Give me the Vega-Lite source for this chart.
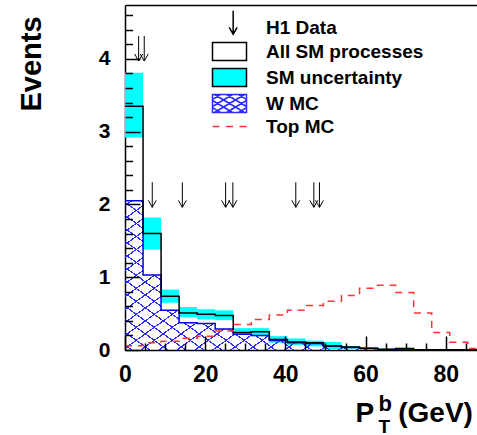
{
"$schema":"https://vega.github.io/schema/vega-lite/v6.json",
"width":352,"height":345,
"autosize":{"type":"none"},
"padding":{"left":125,"top":5,"right":0,"bottom":85},
"config":{"view":{"stroke":null},"font":"Liberation Sans","axis":{"grid":false,"labelColor":"black","titleColor":"black","tickColor":"black","domainColor":"black","labelFontWeight":"bold","titleFontWeight":"bold","labelFont":"Liberation Sans","titleFont":"Liberation Sans"}},
"datasets":{
"bins":[
{"x0":0,"x1":4.5,"sm":3.35,"lo":2.92,"hi":3.81,"w":2.05,"top":0.06},
{"x0":4.5,"x1":9,"sm":1.6,"lo":1.38,"hi":1.82,"w":1.03,"top":0.1},
{"x0":9,"x1":13.5,"sm":0.74,"lo":0.65,"hi":0.83,"w":0.545,"top":0.12},
{"x0":13.5,"x1":18,"sm":0.51,"lo":0.45,"hi":0.59,"w":0.375,"top":0.16},
{"x0":18,"x1":22.5,"sm":0.49,"lo":0.42,"hi":0.56,"w":0.365,"top":0.19},
{"x0":22.5,"x1":27,"sm":0.475,"lo":0.41,"hi":0.545,"w":0.29,"top":0.26},
{"x0":27,"x1":31.5,"sm":0.24,"lo":0.21,"hi":0.3,"w":0.215,"top":0.35},
{"x0":31.5,"x1":36,"sm":0.25,"lo":0.19,"hi":0.3,"w":0.2,"top":0.42},
{"x0":36,"x1":40.5,"sm":0.145,"lo":0.1,"hi":0.19,"w":0.13,"top":0.48},
{"x0":40.5,"x1":45,"sm":0.11,"lo":0.07,"hi":0.16,"w":0.1,"top":0.545},
{"x0":45,"x1":49.5,"sm":0.1,"lo":0.05,"hi":0.13,"w":0.09,"top":0.61},
{"x0":49.5,"x1":54,"sm":0.055,"lo":0.01,"hi":0.11,"w":0.05,"top":0.67},
{"x0":54,"x1":58.5,"sm":0.04,"lo":0.02,"hi":0.055,"w":0.035,"top":0.75},
{"x0":58.5,"x1":63,"sm":0.025,"lo":0.01,"hi":0.04,"w":0.02,"top":0.85},
{"x0":63,"x1":67.5,"sm":0.01,"lo":0.0,"hi":0.02,"w":0.005,"top":0.89},
{"x0":67.5,"x1":72,"sm":0.02,"lo":0.01,"hi":0.03,"w":0.01,"top":0.79},
{"x0":72,"x1":76.5,"sm":0.005,"lo":0,"hi":0.01,"w":0.003,"top":0.51},
{"x0":76.5,"x1":81,"sm":0.003,"lo":0,"hi":0.006,"w":0.002,"top":0.24},
{"x0":81,"x1":85.5,"sm":0.002,"lo":0,"hi":0.004,"w":0.001,"top":0.105},
{"x0":85.5,"x1":90,"sm":0.002,"lo":0,"hi":0.004,"w":0.001,"top":0.02},
{"x0":90,"x1":90,"sm":0.002,"lo":0,"hi":0,"w":0.001,"top":0.02}
],
"events":[
{"pt":3.4,"tip":3.97},{"pt":4.8,"tip":3.97},
{"pt":6.8,"tip":1.96},{"pt":14.3,"tip":1.96},{"pt":25.1,"tip":1.96},{"pt":26.9,"tip":1.96},
{"pt":42.6,"tip":1.96},{"pt":47.1,"tip":1.96},{"pt":48.5,"tip":1.96}
],
"series":[{"s":"H1 Data"},{"s":"All SM processes"},{"s":"SM uncertainty"},{"s":"W MC"},{"s":"Top MC"}]
},
"resolve":{"axis":{"x":"independent","y":"independent"}},
"layer":[
{"data":{"name":"bins"},
 "mark":{"type":"rect","color":"#00ffff","clip":true},
 "encoding":{
  "x":{"field":"x0","type":"quantitative","scale":{"domain":[0,87.8],"nice":false,"zero":false},
   "axis":{"orient":"bottom","values":[0,20,40,60,80],"ticks":false,"labelPadding":13,"labelFontSize":23,"labelFlush":false,"labelOverlap":false,"domain":true,"domainWidth":1.5,
     "title":"P","titleX":230,"titleY":71.7,"titleAlign":"left","titleBaseline":"alphabetic","titleFontSize":28}},
  "x2":{"field":"x1"},
  "y":{"field":"lo","type":"quantitative","scale":{"domain":[0,4.74],"nice":false,"zero":false},
   "axis":{"orient":"left","values":[0,1,2,3,4],"ticks":false,"labelPadding":15,"labelFontSize":21,"labelFlush":false,"labelOverlap":false,"domain":true,"domainWidth":1.5,
     "title":"Events","titleX":-85,"titleY":58.5,"titleAngle":270,"titleAlign":"center","titleBaseline":"alphabetic","titleFontSize":29}},
  "y2":{"field":"hi"}
 }},
{"data":{"name":"bins"},
 "mark":{"type":"area","interpolate":"step-after","clip":true,
  "fill":{"gradient":"linear","x1":0,"y1":1,"x2":1.1845,"y2":0.3215,"stops":[
{"offset":0,"color":"rgba(43,43,255,0)"},
{"offset":0.0100,"color":"rgba(43,43,255,0)"},{"offset":0.0100,"color":"#2b2bff"},{"offset":0.0135,"color":"#2b2bff"},{"offset":0.0135,"color":"rgba(43,43,255,0)"},
{"offset":0.0417,"color":"rgba(43,43,255,0)"},{"offset":0.0417,"color":"#2b2bff"},{"offset":0.0452,"color":"#2b2bff"},{"offset":0.0452,"color":"rgba(43,43,255,0)"},
{"offset":0.0734,"color":"rgba(43,43,255,0)"},{"offset":0.0734,"color":"#2b2bff"},{"offset":0.0769,"color":"#2b2bff"},{"offset":0.0769,"color":"rgba(43,43,255,0)"},
{"offset":0.1051,"color":"rgba(43,43,255,0)"},{"offset":0.1051,"color":"#2b2bff"},{"offset":0.1086,"color":"#2b2bff"},{"offset":0.1086,"color":"rgba(43,43,255,0)"},
{"offset":0.1368,"color":"rgba(43,43,255,0)"},{"offset":0.1368,"color":"#2b2bff"},{"offset":0.1403,"color":"#2b2bff"},{"offset":0.1403,"color":"rgba(43,43,255,0)"},
{"offset":0.1685,"color":"rgba(43,43,255,0)"},{"offset":0.1685,"color":"#2b2bff"},{"offset":0.1720,"color":"#2b2bff"},{"offset":0.1720,"color":"rgba(43,43,255,0)"},
{"offset":0.2001,"color":"rgba(43,43,255,0)"},{"offset":0.2001,"color":"#2b2bff"},{"offset":0.2036,"color":"#2b2bff"},{"offset":0.2036,"color":"rgba(43,43,255,0)"},
{"offset":0.2318,"color":"rgba(43,43,255,0)"},{"offset":0.2318,"color":"#2b2bff"},{"offset":0.2353,"color":"#2b2bff"},{"offset":0.2353,"color":"rgba(43,43,255,0)"},
{"offset":0.2635,"color":"rgba(43,43,255,0)"},{"offset":0.2635,"color":"#2b2bff"},{"offset":0.2670,"color":"#2b2bff"},{"offset":0.2670,"color":"rgba(43,43,255,0)"},
{"offset":0.2952,"color":"rgba(43,43,255,0)"},{"offset":0.2952,"color":"#2b2bff"},{"offset":0.2987,"color":"#2b2bff"},{"offset":0.2987,"color":"rgba(43,43,255,0)"},
{"offset":0.3269,"color":"rgba(43,43,255,0)"},{"offset":0.3269,"color":"#2b2bff"},{"offset":0.3304,"color":"#2b2bff"},{"offset":0.3304,"color":"rgba(43,43,255,0)"},
{"offset":0.3586,"color":"rgba(43,43,255,0)"},{"offset":0.3586,"color":"#2b2bff"},{"offset":0.3621,"color":"#2b2bff"},{"offset":0.3621,"color":"rgba(43,43,255,0)"},
{"offset":0.3903,"color":"rgba(43,43,255,0)"},{"offset":0.3903,"color":"#2b2bff"},{"offset":0.3938,"color":"#2b2bff"},{"offset":0.3938,"color":"rgba(43,43,255,0)"},
{"offset":0.4220,"color":"rgba(43,43,255,0)"},{"offset":0.4220,"color":"#2b2bff"},{"offset":0.4255,"color":"#2b2bff"},{"offset":0.4255,"color":"rgba(43,43,255,0)"},
{"offset":0.4537,"color":"rgba(43,43,255,0)"},{"offset":0.4537,"color":"#2b2bff"},{"offset":0.4572,"color":"#2b2bff"},{"offset":0.4572,"color":"rgba(43,43,255,0)"},
{"offset":0.4854,"color":"rgba(43,43,255,0)"},{"offset":0.4854,"color":"#2b2bff"},{"offset":0.4889,"color":"#2b2bff"},{"offset":0.4889,"color":"rgba(43,43,255,0)"},
{"offset":0.5170,"color":"rgba(43,43,255,0)"},{"offset":0.5170,"color":"#2b2bff"},{"offset":0.5205,"color":"#2b2bff"},{"offset":0.5205,"color":"rgba(43,43,255,0)"},
{"offset":0.5487,"color":"rgba(43,43,255,0)"},{"offset":0.5487,"color":"#2b2bff"},{"offset":0.5522,"color":"#2b2bff"},{"offset":0.5522,"color":"rgba(43,43,255,0)"},
{"offset":0.5804,"color":"rgba(43,43,255,0)"},{"offset":0.5804,"color":"#2b2bff"},{"offset":0.5839,"color":"#2b2bff"},{"offset":0.5839,"color":"rgba(43,43,255,0)"},
{"offset":0.6121,"color":"rgba(43,43,255,0)"},{"offset":0.6121,"color":"#2b2bff"},{"offset":0.6156,"color":"#2b2bff"},{"offset":0.6156,"color":"rgba(43,43,255,0)"},
{"offset":0.6438,"color":"rgba(43,43,255,0)"},{"offset":0.6438,"color":"#2b2bff"},{"offset":0.6473,"color":"#2b2bff"},{"offset":0.6473,"color":"rgba(43,43,255,0)"},
{"offset":0.6755,"color":"rgba(43,43,255,0)"},{"offset":0.6755,"color":"#2b2bff"},{"offset":0.6790,"color":"#2b2bff"},{"offset":0.6790,"color":"rgba(43,43,255,0)"},
{"offset":0.7072,"color":"rgba(43,43,255,0)"},{"offset":0.7072,"color":"#2b2bff"},{"offset":0.7107,"color":"#2b2bff"},{"offset":0.7107,"color":"rgba(43,43,255,0)"},
{"offset":0.7389,"color":"rgba(43,43,255,0)"},{"offset":0.7389,"color":"#2b2bff"},{"offset":0.7424,"color":"#2b2bff"},{"offset":0.7424,"color":"rgba(43,43,255,0)"},
{"offset":0.7706,"color":"rgba(43,43,255,0)"},{"offset":0.7706,"color":"#2b2bff"},{"offset":0.7741,"color":"#2b2bff"},{"offset":0.7741,"color":"rgba(43,43,255,0)"},
{"offset":0.8023,"color":"rgba(43,43,255,0)"},{"offset":0.8023,"color":"#2b2bff"},{"offset":0.8058,"color":"#2b2bff"},{"offset":0.8058,"color":"rgba(43,43,255,0)"},
{"offset":0.8339,"color":"rgba(43,43,255,0)"},{"offset":0.8339,"color":"#2b2bff"},{"offset":0.8374,"color":"#2b2bff"},{"offset":0.8374,"color":"rgba(43,43,255,0)"},
{"offset":0.8656,"color":"rgba(43,43,255,0)"},{"offset":0.8656,"color":"#2b2bff"},{"offset":0.8691,"color":"#2b2bff"},{"offset":0.8691,"color":"rgba(43,43,255,0)"},
{"offset":0.8973,"color":"rgba(43,43,255,0)"},{"offset":0.8973,"color":"#2b2bff"},{"offset":0.9008,"color":"#2b2bff"},{"offset":0.9008,"color":"rgba(43,43,255,0)"},
{"offset":0.9290,"color":"rgba(43,43,255,0)"},{"offset":0.9290,"color":"#2b2bff"},{"offset":0.9325,"color":"#2b2bff"},{"offset":0.9325,"color":"rgba(43,43,255,0)"},
{"offset":0.9607,"color":"rgba(43,43,255,0)"},{"offset":0.9607,"color":"#2b2bff"},{"offset":0.9642,"color":"#2b2bff"},{"offset":0.9642,"color":"rgba(43,43,255,0)"},
{"offset":0.9924,"color":"rgba(43,43,255,0)"},{"offset":0.9924,"color":"#2b2bff"},{"offset":0.9959,"color":"#2b2bff"},{"offset":0.9959,"color":"rgba(43,43,255,0)"},
{"offset":1,"color":"rgba(43,43,255,0)"}
  ]}},
 "encoding":{
  "x":{"field":"x0","type":"quantitative","axis":{"orient":"bottom","values":[5,10,15,25,30,35,45,50,55,65,70,75,85],"labels":false,"domain":false,"ticks":true,"tickSize":-7,"tickWidth":1.5,"title":null,"zindex":1}},
  "y":{"field":"w","type":"quantitative","stack":null,"axis":{"orient":"left","values":[0.2,0.4,0.6,0.8,1.2,1.4,1.6,1.8,2.2,2.4,2.6,2.8,3.2,3.4,3.6,3.8,4.2,4.4,4.6],"labels":false,"domain":false,"ticks":true,"tickSize":-7.5,"tickWidth":1.5,"title":null,"zindex":1}}
 }},
{"data":{"name":"bins"},
 "mark":{"type":"area","interpolate":"step-after","clip":true,
  "fill":{"gradient":"linear","x1":0,"y1":0,"x2":1.1845,"y2":0.6785,"stops":[
{"offset":0,"color":"rgba(43,43,255,0)"},
{"offset":0.0100,"color":"rgba(43,43,255,0)"},{"offset":0.0100,"color":"#2b2bff"},{"offset":0.0135,"color":"#2b2bff"},{"offset":0.0135,"color":"rgba(43,43,255,0)"},
{"offset":0.0417,"color":"rgba(43,43,255,0)"},{"offset":0.0417,"color":"#2b2bff"},{"offset":0.0452,"color":"#2b2bff"},{"offset":0.0452,"color":"rgba(43,43,255,0)"},
{"offset":0.0734,"color":"rgba(43,43,255,0)"},{"offset":0.0734,"color":"#2b2bff"},{"offset":0.0769,"color":"#2b2bff"},{"offset":0.0769,"color":"rgba(43,43,255,0)"},
{"offset":0.1051,"color":"rgba(43,43,255,0)"},{"offset":0.1051,"color":"#2b2bff"},{"offset":0.1086,"color":"#2b2bff"},{"offset":0.1086,"color":"rgba(43,43,255,0)"},
{"offset":0.1368,"color":"rgba(43,43,255,0)"},{"offset":0.1368,"color":"#2b2bff"},{"offset":0.1403,"color":"#2b2bff"},{"offset":0.1403,"color":"rgba(43,43,255,0)"},
{"offset":0.1685,"color":"rgba(43,43,255,0)"},{"offset":0.1685,"color":"#2b2bff"},{"offset":0.1720,"color":"#2b2bff"},{"offset":0.1720,"color":"rgba(43,43,255,0)"},
{"offset":0.2001,"color":"rgba(43,43,255,0)"},{"offset":0.2001,"color":"#2b2bff"},{"offset":0.2036,"color":"#2b2bff"},{"offset":0.2036,"color":"rgba(43,43,255,0)"},
{"offset":0.2318,"color":"rgba(43,43,255,0)"},{"offset":0.2318,"color":"#2b2bff"},{"offset":0.2353,"color":"#2b2bff"},{"offset":0.2353,"color":"rgba(43,43,255,0)"},
{"offset":0.2635,"color":"rgba(43,43,255,0)"},{"offset":0.2635,"color":"#2b2bff"},{"offset":0.2670,"color":"#2b2bff"},{"offset":0.2670,"color":"rgba(43,43,255,0)"},
{"offset":0.2952,"color":"rgba(43,43,255,0)"},{"offset":0.2952,"color":"#2b2bff"},{"offset":0.2987,"color":"#2b2bff"},{"offset":0.2987,"color":"rgba(43,43,255,0)"},
{"offset":0.3269,"color":"rgba(43,43,255,0)"},{"offset":0.3269,"color":"#2b2bff"},{"offset":0.3304,"color":"#2b2bff"},{"offset":0.3304,"color":"rgba(43,43,255,0)"},
{"offset":0.3586,"color":"rgba(43,43,255,0)"},{"offset":0.3586,"color":"#2b2bff"},{"offset":0.3621,"color":"#2b2bff"},{"offset":0.3621,"color":"rgba(43,43,255,0)"},
{"offset":0.3903,"color":"rgba(43,43,255,0)"},{"offset":0.3903,"color":"#2b2bff"},{"offset":0.3938,"color":"#2b2bff"},{"offset":0.3938,"color":"rgba(43,43,255,0)"},
{"offset":0.4220,"color":"rgba(43,43,255,0)"},{"offset":0.4220,"color":"#2b2bff"},{"offset":0.4255,"color":"#2b2bff"},{"offset":0.4255,"color":"rgba(43,43,255,0)"},
{"offset":0.4537,"color":"rgba(43,43,255,0)"},{"offset":0.4537,"color":"#2b2bff"},{"offset":0.4572,"color":"#2b2bff"},{"offset":0.4572,"color":"rgba(43,43,255,0)"},
{"offset":0.4854,"color":"rgba(43,43,255,0)"},{"offset":0.4854,"color":"#2b2bff"},{"offset":0.4889,"color":"#2b2bff"},{"offset":0.4889,"color":"rgba(43,43,255,0)"},
{"offset":0.5170,"color":"rgba(43,43,255,0)"},{"offset":0.5170,"color":"#2b2bff"},{"offset":0.5205,"color":"#2b2bff"},{"offset":0.5205,"color":"rgba(43,43,255,0)"},
{"offset":0.5487,"color":"rgba(43,43,255,0)"},{"offset":0.5487,"color":"#2b2bff"},{"offset":0.5522,"color":"#2b2bff"},{"offset":0.5522,"color":"rgba(43,43,255,0)"},
{"offset":0.5804,"color":"rgba(43,43,255,0)"},{"offset":0.5804,"color":"#2b2bff"},{"offset":0.5839,"color":"#2b2bff"},{"offset":0.5839,"color":"rgba(43,43,255,0)"},
{"offset":0.6121,"color":"rgba(43,43,255,0)"},{"offset":0.6121,"color":"#2b2bff"},{"offset":0.6156,"color":"#2b2bff"},{"offset":0.6156,"color":"rgba(43,43,255,0)"},
{"offset":0.6438,"color":"rgba(43,43,255,0)"},{"offset":0.6438,"color":"#2b2bff"},{"offset":0.6473,"color":"#2b2bff"},{"offset":0.6473,"color":"rgba(43,43,255,0)"},
{"offset":0.6755,"color":"rgba(43,43,255,0)"},{"offset":0.6755,"color":"#2b2bff"},{"offset":0.6790,"color":"#2b2bff"},{"offset":0.6790,"color":"rgba(43,43,255,0)"},
{"offset":0.7072,"color":"rgba(43,43,255,0)"},{"offset":0.7072,"color":"#2b2bff"},{"offset":0.7107,"color":"#2b2bff"},{"offset":0.7107,"color":"rgba(43,43,255,0)"},
{"offset":0.7389,"color":"rgba(43,43,255,0)"},{"offset":0.7389,"color":"#2b2bff"},{"offset":0.7424,"color":"#2b2bff"},{"offset":0.7424,"color":"rgba(43,43,255,0)"},
{"offset":0.7706,"color":"rgba(43,43,255,0)"},{"offset":0.7706,"color":"#2b2bff"},{"offset":0.7741,"color":"#2b2bff"},{"offset":0.7741,"color":"rgba(43,43,255,0)"},
{"offset":0.8023,"color":"rgba(43,43,255,0)"},{"offset":0.8023,"color":"#2b2bff"},{"offset":0.8058,"color":"#2b2bff"},{"offset":0.8058,"color":"rgba(43,43,255,0)"},
{"offset":0.8339,"color":"rgba(43,43,255,0)"},{"offset":0.8339,"color":"#2b2bff"},{"offset":0.8374,"color":"#2b2bff"},{"offset":0.8374,"color":"rgba(43,43,255,0)"},
{"offset":0.8656,"color":"rgba(43,43,255,0)"},{"offset":0.8656,"color":"#2b2bff"},{"offset":0.8691,"color":"#2b2bff"},{"offset":0.8691,"color":"rgba(43,43,255,0)"},
{"offset":0.8973,"color":"rgba(43,43,255,0)"},{"offset":0.8973,"color":"#2b2bff"},{"offset":0.9008,"color":"#2b2bff"},{"offset":0.9008,"color":"rgba(43,43,255,0)"},
{"offset":0.9290,"color":"rgba(43,43,255,0)"},{"offset":0.9290,"color":"#2b2bff"},{"offset":0.9325,"color":"#2b2bff"},{"offset":0.9325,"color":"rgba(43,43,255,0)"},
{"offset":0.9607,"color":"rgba(43,43,255,0)"},{"offset":0.9607,"color":"#2b2bff"},{"offset":0.9642,"color":"#2b2bff"},{"offset":0.9642,"color":"rgba(43,43,255,0)"},
{"offset":0.9924,"color":"rgba(43,43,255,0)"},{"offset":0.9924,"color":"#2b2bff"},{"offset":0.9959,"color":"#2b2bff"},{"offset":0.9959,"color":"rgba(43,43,255,0)"},
{"offset":1,"color":"rgba(43,43,255,0)"}
  ]}},
 "encoding":{
  "x":{"field":"x0","type":"quantitative","axis":{"orient":"bottom","values":[0,20,40,60,80],"labels":false,"domain":false,"ticks":true,"tickSize":-14,"tickWidth":1.5,"title":null,"zindex":1}},
  "y":{"field":"w","type":"quantitative","stack":null,"axis":{"orient":"left","values":[0,1,2,3,4],"labels":false,"domain":false,"ticks":true,"tickSize":-15,"tickWidth":1.5,"title":null,"zindex":1}}
 }},
{"data":{"name":"bins"},
 "mark":{"type":"line","interpolate":"step-after","clip":true,"color":"#0000ee","strokeWidth":1.5},
 "encoding":{
  "x":{"field":"x0","type":"quantitative","axis":{"orient":"bottom","labels":false,"domain":false,"ticks":false,"title":"b","titleX":253,"titleY":60,"titleAlign":"left","titleBaseline":"alphabetic","titleFontSize":22}},
  "y":{"field":"w","type":"quantitative","axis":null}
 }},
{"data":{"name":"bins"},
 "mark":{"type":"line","interpolate":"step-after","clip":true,"color":"black","strokeWidth":1.5},
 "encoding":{
  "x":{"field":"x0","type":"quantitative","axis":{"orient":"bottom","labels":false,"domain":false,"ticks":false,"title":"T","titleX":253,"titleY":82,"titleAlign":"left","titleBaseline":"alphabetic","titleFontSize":19}},
  "y":{"field":"sm","type":"quantitative","axis":null}
 }},
{"data":{"name":"bins"},
 "mark":{"type":"line","interpolate":"step-after","clip":true,"color":"#ff3333","strokeWidth":1.5,"strokeDash":[7,6]},
 "encoding":{
  "x":{"field":"x0","type":"quantitative","axis":{"orient":"bottom","labels":false,"domain":false,"ticks":false,"title":"(GeV)","titleX":272.7,"titleY":71.7,"titleAlign":"left","titleBaseline":"alphabetic","titleFontSize":28}},
  "y":{"field":"top","type":"quantitative","axis":null}
 }},
{"data":{"name":"events"},
 "mark":{"type":"point","shape":"M0,-6.25V0M-1,-1.75L0,0L1,-1.75","size":64,"filled":false,"stroke":"black","strokeWidth":1,"opacity":1,"clip":true},
 "encoding":{
  "x":{"field":"pt","type":"quantitative","axis":{"orient":"top","labels":false,"ticks":false,"domain":true,"domainWidth":1.5,"title":null}},
  "y":{"field":"tip","type":"quantitative","axis":null}
 }},
{"data":{"name":"series"},
 "transform":[{"filter":"false"}],
 "mark":{"type":"point","opacity":1,"strokeWidth":1.5},
 "encoding":{
  "shape":{"field":"s","type":"nominal","scale":{"domain":["H1 Data","All SM processes","SM uncertainty","W MC","Top MC"],
    "range":["M0.46,-2.09V0.84M-0.04,-0.03L0.46,0.84L0.96,-0.03",
     "M-2.125,-1.125H2.125V1.125H-2.125Z",
     "M-2.125,-1.125H2.125V1.125H-2.125Z",
     "M-2.125,-1.125H2.125V1.125H-2.125ZM-2.125,0.525L-1.125,1.125M-2.125,-0.375L0.375,1.125M-1.875,-1.125L1.875,1.125M-0.375,-1.125L2.125,0.375M1.125,-1.125L2.125,-0.525M-2.125,-0.525L-1.125,-1.125M-2.125,0.375L0.375,-1.125M-1.875,1.125L1.875,-1.125M-0.375,1.125L2.125,-0.375M1.125,1.125L2.125,0.525",
     "M-2.125,0H-1.25M-0.4375,0H0.4375M1.25,0H2.125"]},
   "legend":{"title":null,"orient":"none","legendX":95,"legendY":13,"direction":"vertical","padding":0,"labelFont":"Liberation Sans","labelFontWeight":"bold","labelFontSize":19,"labelColor":"black","symbolSize":256,"symbolStrokeWidth":1.5,"labelOffset":27,"symbolOffset":0,"rowPadding":1,"labelLimit":300}},
  "fill":{"field":"s","type":"nominal","scale":{"domain":["H1 Data","All SM processes","SM uncertainty","W MC","Top MC"],"range":["transparent","white","#00ffff","transparent","transparent"]}},
  "stroke":{"field":"s","type":"nominal","scale":{"domain":["H1 Data","All SM processes","SM uncertainty","W MC","Top MC"],"range":["black","black","black","#2b2bff","#ff3333"]}}
 }}
]
}
